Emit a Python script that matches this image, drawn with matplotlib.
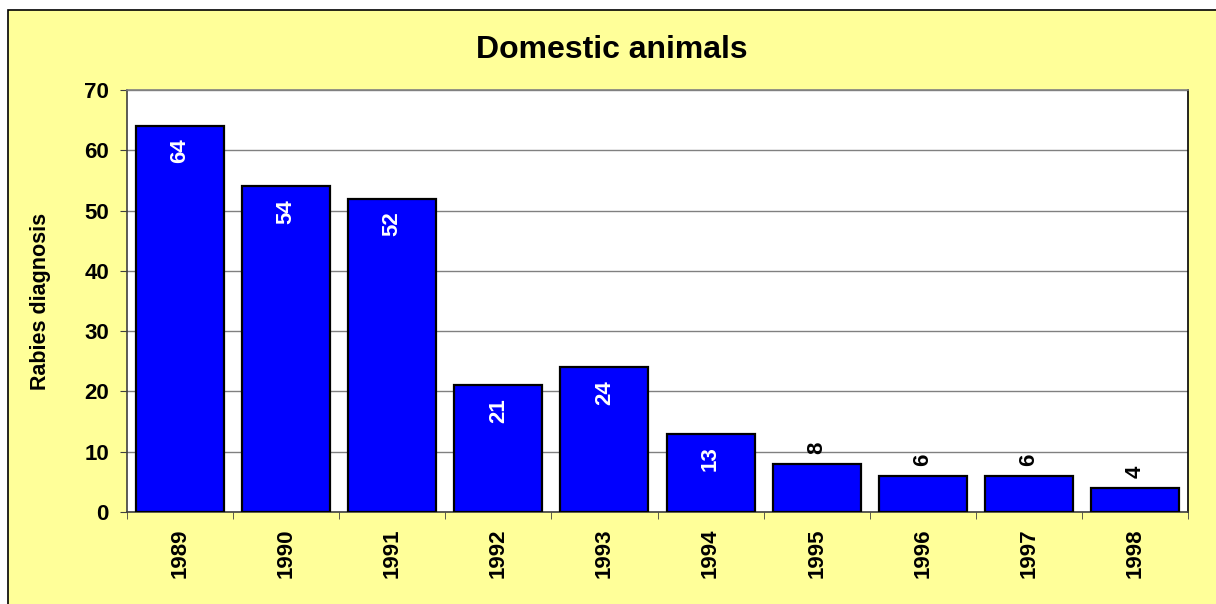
import numpy as np
import matplotlib
matplotlib.use('Agg')
import matplotlib.pyplot as plt
from matplotlib.patches import Rectangle

matplotlib.rcParams['font.family'] = 'Liberation Sans'
matplotlib.rcParams['font.weight'] = 'bold'

years = ['1989', '1990', '1991', '1992', '1993', '1994', '1995', '1996', '1997', '1998']
cases = [64, 54, 52, 21, 24, 13, 8, 6, 6, 4]

bgColor = '#FFFF99'
barColor = '#0000FF'
fontSizeTicks = 16
fontSizeLabel = 15.5
fontSizeTitle = 23

fig = plt.figure(figsize=(12.16, 6.04), dpi=100)
fig.patch.set_facecolor('white')
# -- yellow chart area with a black frame on left and top --
frame = Rectangle((8/1216, -0.1), 1.2, (604-10)/604 + 0.1, transform=fig.transFigure,
                  facecolor=bgColor, edgecolor='black', lw=1.2, zorder=-10)
fig.patches.append(frame)

ax = fig.add_axes([127/1216, (604-512)/604, (1188-127)/1216, (512-90)/604])
ax.set_facecolor('white')

xpos = np.arange(len(years))
bars = ax.bar(xpos, cases, width=0.83, color=barColor, edgecolor='black', lw=1.6, zorder=3)

for x, val in zip(xpos, cases):
    if val >= 10:
        ax.annotate(str(val), (x, val), xytext=(0, -9), textcoords='offset points',
                    rotation=90, ha='center', va='top', color='white',
                    fontsize=fontSizeTicks, fontweight='bold', zorder=4)
    else:
        ax.annotate(str(val), (x, val), xytext=(0, 7), textcoords='offset points',
                    rotation=90, ha='center', va='bottom', color='black',
                    fontsize=fontSizeTicks, fontweight='bold', zorder=4)

ax.set_xlim(-0.5, len(years) - 0.5)
ax.set_ylim(0, 70)
ax.set_yticks(np.arange(0, 71, 10))
ax.yaxis.grid(True, color='#808080', lw=1, zorder=0)
ax.set_xticks(xpos)
ax.set_xticklabels(years, rotation=90, fontsize=fontSizeTicks, fontweight='bold')
ax.set_xticks(np.arange(-0.5, len(years), 1), minor=True)
ax.tick_params(axis='x', which='major', length=0, pad=12)
ax.tick_params(axis='x', which='minor', length=5, color='#404040', direction='out')
ax.tick_params(axis='y', length=5, color='#404040', direction='out', pad=8,
               labelsize=fontSizeTicks)
for lab in ax.get_yticklabels():
    lab.set_fontweight('bold')

ax.spines['top'].set_color('#808080')
ax.spines['left'].set_color('#404040')
ax.spines['bottom'].set_color('#404040')
ax.spines['right'].set_color('black')
for sp in ax.spines.values():
    sp.set_linewidth(1.2)

ax.set_ylabel('Rabies diagnosis', fontsize=fontSizeLabel, fontweight='bold', labelpad=24)
fig.text(612/1216, 1 - 50/604, 'Domestic animals', ha='center', va='center',
         fontsize=fontSizeTitle, fontweight='bold')

fig.savefig('out.png', dpi=100, facecolor=fig.get_facecolor())
